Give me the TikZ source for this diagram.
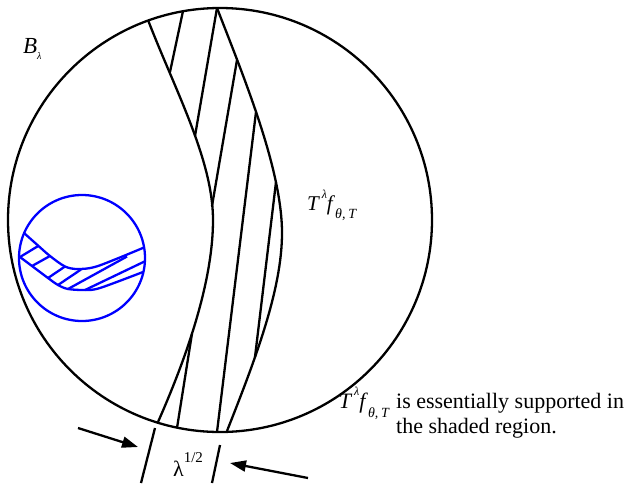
\documentclass[tikz,border=0pt]{standalone}
\usepackage{fontspec}
\setmainfont{Liberation Serif}
\usetikzlibrary{arrows.meta, positioning}

% T^lambda f_{theta,T}
\newcommand{\tlf}[2]{\textit{T}\hspace{.08em}\raisebox{.55em}{\fontsize{#1}{#1}\selectfont\textit{λ}}\textit{f}\raisebox{-.42em}{\fontsize{#2}{#2}\selectfont\textit{θ,\hspace{.2em}T}}}

\begin{document}
\begin{tikzpicture}[x=1pt, y=-1pt, line width=2.3pt,
  blu/.style={draw=blue, line width=2.3pt},
  freccia/.style={-{Triangle[length=16pt,width=11pt]}},
  testo/.style={anchor=base west, inner sep=0pt, font=\fontsize{22}{26}\selectfont}]
\useasboundingbox (0,0) rectangle (624,483);

% Cerchio
\draw (220,220) circle[radius=212pt];
\node[testo, font=\fontsize{23}{27}\selectfont] (blab) at (22,53) {\textit{B}\raisebox{-.3em}{\fontsize{10}{10}\selectfont\textit{λ}}};

% Striscia
\draw (148,20) .. controls (175,90) and (213,160) .. (213,220)
  .. controls (213,275) and (192,345) .. (158,422);
\draw (217,8) .. controls (245,80) and (282,170) .. (282,233)
  .. controls (282,290) and (255,360) .. (227,431);
\draw (183,11) -- (170,72);
\draw (217,8) -- (195,136);
\draw (237,60) -- (212,206);
\draw (256,112) -- (217,432);
\draw (276,182) -- (255,357);
\draw (192,333.5) -- (177,428);

% Zoom
\draw[blu] (82,258) circle[radius=63pt];
\draw[blu] plot[smooth] coordinates {(24,233) (38,245.5) (50,256) (65,266.5) (78,269) (98,266) (144,247.5)};
\draw[blu] plot[smooth] coordinates {(20,257) (32,266) (48,278) (58,285) (68,289) (85,290) (100,288) (143,272)};
\draw[blu] (20,257) -- (38.5,245.8);
\draw[blu] (32,266) -- (50,256);
\draw[blu] (48,278) -- (65,266.5);
\draw[blu] (58,285) -- (81,269.5);
\draw[blu] (68,289) -- (127,256.5);
\draw[blu] (85,290) -- (144.5,261.5);

% Larghezza
\coordinate (sxa) at (155,428);
\coordinate (sxb) at (141,483);
\coordinate (dxa) at (220,445);
\coordinate (dxb) at (212,483);
\draw (sxa) -- (sxb);
\draw (dxa) -- (dxb);
\coordinate (fsx) at (78,428);
\coordinate (psx) at (138,447);
\coordinate (fdx) at (308,478);
\coordinate (pdx) at (230,463);
\draw[freccia] (fsx) -- (psx);
\draw[freccia] (fdx) -- (pdx);
\node[testo] (lam) at (172,476) {λ\raisebox{.6em}{\fontsize{15}{15}\selectfont 1/2}};

% Etichette
\node[testo, font=\fontsize{21}{25}\selectfont] (tfm) at (306,210) {\tlf{12}{14}};
\node[testo] (supp) at (395,408) {is essentially supported in};
\node[testo] (shad) at (395,433) {the shaded region.};
\node[testo, anchor=base east] (tfb) at ([xshift=-4pt]supp.base west) {\tlf{12}{14}};
\end{tikzpicture}
\end{document}
